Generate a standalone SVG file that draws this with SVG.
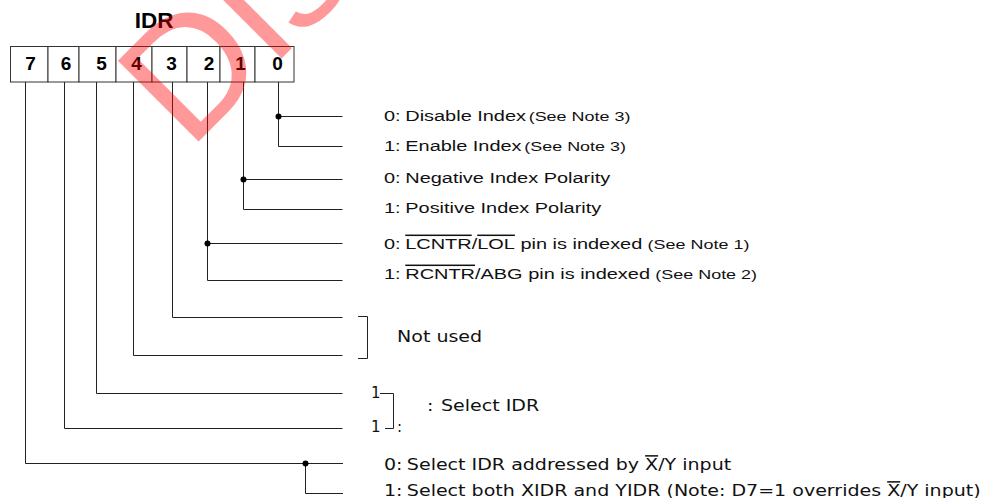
<svg xmlns="http://www.w3.org/2000/svg" width="988" height="498" viewBox="0 0 988 498">
<style>
.ln{stroke:#222;stroke-width:1;fill:none}
.cell{stroke:#333;stroke-width:1;fill:#fff}
.dig{font-family:"Liberation Sans",Arial,sans-serif;font-weight:bold;font-size:19px;fill:#000;text-anchor:middle}
.title{font-family:"Liberation Sans",Arial,sans-serif;font-weight:bold;font-size:22.5px;fill:#000;text-anchor:middle}
.lbl{font-family:"Liberation Sans",Arial,sans-serif;font-size:15px;fill:#111}
.note{font-size:13.5px}
.lg{font-family:"DejaVu Sans",Verdana,sans-serif;font-size:15px;fill:#111}
.ov{text-decoration:overline}
.dot{fill:#000}
.wm{font-family:"Liberation Sans",Arial,sans-serif;font-size:166px;fill:#ff0000;fill-opacity:0.4}
</style>
<rect width="988" height="498" fill="#fff"/>

<g id="title"><text class="title" x="154" y="28">IDR</text></g>

<g id="register">
  <g id="bit7"><rect class="cell" x="10.5" y="46.5" width="37.5" height="35.5"/><text class="dig" x="30.5" y="69.5">7</text></g>
  <g id="bit6"><rect class="cell" x="48" y="46.5" width="31" height="35.5"/><text class="dig" x="66" y="69.5">6</text></g>
  <g id="bit5"><rect class="cell" x="79" y="46.5" width="37" height="35.5"/><text class="dig" x="101.5" y="69.5">5</text></g>
  <g id="bit4"><rect class="cell" x="116" y="46.5" width="36" height="35.5"/><text class="dig" x="136.5" y="69.5">4</text></g>
  <g id="bit3"><rect class="cell" x="152" y="46.5" width="35" height="35.5"/><text class="dig" x="171.5" y="69.5">3</text></g>
  <g id="bit2"><rect class="cell" x="187" y="46.5" width="33" height="35.5"/><text class="dig" x="209" y="69.5">2</text></g>
  <g id="bit1"><rect class="cell" x="220" y="46.5" width="35" height="35.5"/><text class="dig" x="240.5" y="69.5">1</text></g>
  <g id="bit0"><rect class="cell" x="255" y="46.5" width="39" height="35.5"/><text class="dig" x="277.5" y="69.5">0</text></g>
</g>

<g id="connectors">
  <path class="ln" d="M278.5 82V146.5H342.5M278.5 116.5H342.5"/>
  <path class="ln" d="M243.5 82V209.5H342.5M243.5 179.5H342.5"/>
  <path class="ln" d="M207.5 82V280.5H342.5M207.5 243.5H342.5"/>
  <path class="ln" d="M172.5 82V317.5H342.5"/>
  <path class="ln" d="M133.5 82V355.5H342.5"/>
  <path class="ln" d="M96.5 82V393.5H342.5"/>
  <path class="ln" d="M64.5 82V428.5H342.5"/>
  <path class="ln" d="M25.5 82V463.5H343M305.5 463.5V493.5H343"/>
  <circle class="dot" cx="278.5" cy="116.5" r="3"/>
  <circle class="dot" cx="243.5" cy="179.5" r="3"/>
  <circle class="dot" cx="207.5" cy="243.5" r="3"/>
  <circle class="dot" cx="305.5" cy="463.5" r="3"/>
  <path class="ln" d="M358 316.5H367.5V358.5H358"/>
  <path class="ln" d="M380 393.5H393.5V428.5H385"/>
</g>

<g id="label-b0-0"><text class="lbl" transform="translate(384,121) scale(1.33,1)"><tspan x="0">0:</tspan><tspan x="16">Disable Index</tspan><tspan class="note" dx="2">(See Note 3)</tspan></text></g>
<g id="label-b0-1"><text class="lbl" transform="translate(384,151) scale(1.33,1)"><tspan x="0">1:</tspan><tspan x="16">Enable Index</tspan><tspan class="note" dx="2">(See Note 3)</tspan></text></g>
<g id="label-b1-0"><text class="lbl" transform="translate(384,183) scale(1.33,1)"><tspan x="0">0:</tspan><tspan x="16">Negative Index Polarity</tspan></text></g>
<g id="label-b1-1"><text class="lbl" transform="translate(384,213) scale(1.33,1)"><tspan x="0">1:</tspan><tspan x="16">Positive Index Polarity</tspan></text></g>
<g id="label-b2-0"><text class="lbl" transform="translate(384,249) scale(1.33,1)"><tspan x="0">0:</tspan><tspan x="16"><tspan class="ov">LCNTR</tspan>/<tspan class="ov">LOL</tspan> pin is indexed</tspan><tspan class="note" dx="4">(See Note 1)</tspan></text></g>
<g id="label-b2-1"><text class="lbl" transform="translate(384,279) scale(1.33,1)"><tspan x="0">1:</tspan><tspan x="16"><tspan class="ov">RCNTR</tspan>/ABG pin is indexed</tspan><tspan class="note" dx="4">(See Note 2)</tspan></text></g>
<g id="label-b34"><text class="lg" transform="translate(397,342) scale(1.27,1)">Not used</text></g>
<g id="label-b56">
  <text class="lg" x="371" y="398" font-size="14">1</text>
  <text class="lg" x="371" y="432" font-size="14">1</text>
  <text class="lg" x="397" y="432">:</text>
  <text class="lg" transform="translate(427,411) scale(1.27,1)"><tspan x="0">:</tspan><tspan x="11">Select IDR</tspan></text>
</g>
<g id="label-b7-0"><text class="lg" transform="translate(384,470) scale(1.27,1)"><tspan x="0">0:</tspan><tspan x="18">Select IDR addressed by <tspan class="ov">X</tspan>/Y input</tspan></text></g>
<g id="label-b7-1"><text class="lg" transform="translate(384,496) scale(1.27,1)"><tspan x="0">1:</tspan><tspan x="18">Select both XIDR and YIDR (Note: D7=1 overrides <tspan class="ov">X</tspan>/Y input)</tspan></text></g>

<g id="watermark"><text class="wm" transform="translate(189,151) rotate(-45)">Dis</text></g>
</svg>
